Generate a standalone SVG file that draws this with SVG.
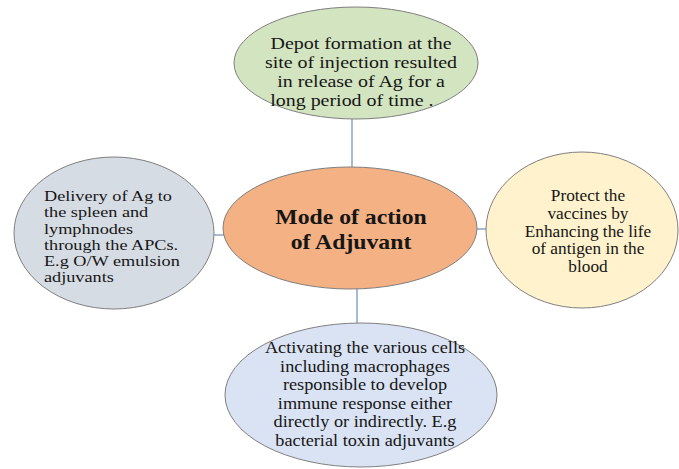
<svg xmlns="http://www.w3.org/2000/svg" width="679" height="469" viewBox="0 0 679 469">
<style>
.n{stroke:#7f7f7f;stroke-width:1}
.t{font-family:"Liberation Serif","Times New Roman",serif;fill:#161616}
.c{text-anchor:middle}
.b{font-weight:bold;font-size:21px}
.e{stroke:#6d8fb3;stroke-width:1.2;fill:none}
</style>
<rect width="679" height="469" fill="#ffffff"/>
<g id="connectors">
<line class="e" x1="352" y1="119" x2="352" y2="168"/>
<line class="e" x1="213" y1="235" x2="224" y2="235"/>
<line class="e" x1="477" y1="229" x2="487" y2="229"/>
<line class="e" x1="357" y1="288" x2="357" y2="323"/>
</g>
<g id="top">
<ellipse class="n" cx="356" cy="63" rx="122" ry="56" fill="#d3e4c1"/>
<text class="t c" font-size="17.5" transform="matrix(1.14 0 0 1 -50.54 0)"><tspan x="361" y="49">Depot formation at the</tspan><tspan x="361" y="68">site of injection resulted</tspan><tspan x="361" y="87">in release of Ag for a</tspan><tspan x="353" y="106">long period of time .</tspan></text>
</g>
<g id="center">
<ellipse class="n" cx="350" cy="228" rx="127" ry="61" fill="#f4b183"/>
<text class="t c b" transform="matrix(1.13 0 0 1 -45.63 0)"><tspan x="351" y="224">Mode of action</tspan><tspan x="351" y="249">of Adjuvant</tspan></text>
</g>
<g id="left">
<ellipse class="n" cx="114" cy="233" rx="100" ry="76" fill="#d6dce4"/>
<text class="t" font-size="15.2" transform="matrix(1.2 0 0 1 -8.8 0)"><tspan x="44" y="201">Delivery of Ag to</tspan><tspan x="44" y="217.3">the spleen and</tspan><tspan x="44" y="233.6">lymphnodes</tspan><tspan x="44" y="249.9">through the APCs.</tspan><tspan x="44" y="266.2">E.g O/W emulsion</tspan><tspan x="44" y="282.5">adjuvants</tspan></text>
</g>
<g id="right">
<ellipse class="n" cx="582" cy="230" rx="96" ry="78" fill="#fff2cc"/>
<text class="t c" font-size="16" transform="matrix(1.08 0 0 1 -47.04 0)"><tspan x="588" y="201">Protect the</tspan><tspan x="588" y="219">vaccines by</tspan><tspan x="588" y="237">Enhancing the life</tspan><tspan x="588" y="254">of antigen in the</tspan><tspan x="588" y="272">blood</tspan></text>
</g>
<g id="bottom">
<ellipse class="n" cx="361" cy="395" rx="136" ry="72" fill="#dae3f3"/>
<text class="t c" font-size="16.6" transform="matrix(1.1 0 0 1 -36.5 0)"><tspan x="365" y="353">Activating the various cells</tspan><tspan x="365" y="372">including macrophages</tspan><tspan x="365" y="390">responsible to develop</tspan><tspan x="365" y="409">immune response either</tspan><tspan x="365" y="427">directly or indirectly. E.g</tspan><tspan x="365" y="446">bacterial toxin adjuvants</tspan></text>
</g>
</svg>
